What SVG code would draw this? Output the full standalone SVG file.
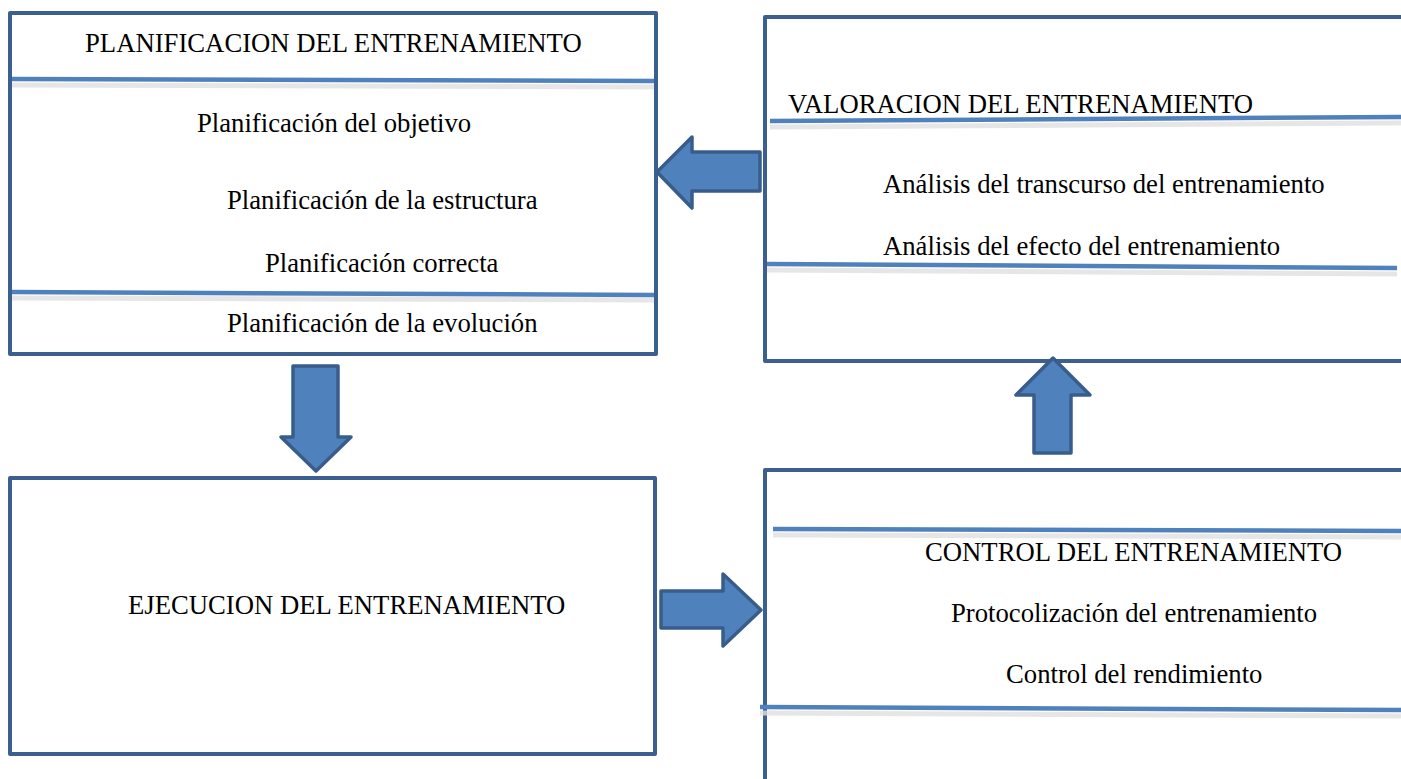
<svg xmlns="http://www.w3.org/2000/svg" width="1401" height="779" viewBox="0 0 1401 779">
<style>
.box{fill:#ffffff;stroke:#3b5f8e;stroke-width:4;stroke-linejoin:round}
.div{stroke:#4f81bd;stroke-width:4.5;fill:none}
.sh{stroke:#e0e0e0;stroke-width:5;fill:none;opacity:0.8}
.arrow{fill:#4f81bd;stroke:#385d8a;stroke-width:3.5;stroke-linejoin:round}
text{font-family:"Liberation Serif","Times New Roman",serif;font-size:26.7px;fill:#000000}
</style>
<rect width="1401" height="779" fill="#ffffff"/>
<g id="planificacion">
<rect class="box" x="10" y="13" width="646" height="341"/>
<path class="sh" d="M12 85 L654 87"/>
<path class="div" d="M12 79 L654 81"/>
<path class="sh" d="M12 298 L654 300"/>
<path class="div" d="M12 292 L654 295"/>
<text x="85" y="52">PLANIFICACION DEL ENTRENAMIENTO</text>
<text x="197" y="132">Planificación del objetivo</text>
<text x="227" y="209">Planificación de la estructura</text>
<text x="265" y="272">Planificación correcta</text>
<text x="227" y="332">Planificación de la evolución</text>
</g>
<g id="valoracion">
<rect class="box" x="765" y="17" width="660" height="344"/>
<path class="sh" d="M770 127 L1401 123"/>
<path class="div" d="M770 121 L1401 117"/>
<path class="sh" d="M767 270 L1397 274"/>
<path class="div" d="M767 264 L1397 268"/>
<text x="788" y="113">VALORACION DEL ENTRENAMIENTO</text>
<text x="883" y="193">Análisis del transcurso del entrenamiento</text>
<text x="883" y="255">Análisis del efecto del entrenamiento</text>
</g>
<g id="ejecucion">
<rect class="box" x="10" y="478" width="645" height="276"/>
<text x="128" y="614">EJECUCION DEL ENTRENAMIENTO</text>
</g>
<g id="control">
<rect class="box" x="765" y="470" width="660" height="340"/>
<path class="sh" d="M773 535 L1401 537"/>
<path class="div" d="M773 529 L1401 531"/>
<path class="sh" d="M760 713 L1401 716"/>
<path class="div" d="M760 707 L1401 710"/>
<text x="925" y="561">CONTROL DEL ENTRENAMIENTO</text>
<text x="951" y="622">Protocolización del entrenamiento</text>
<text x="1006" y="683">Control del rendimiento</text>
</g>
<g id="connectors">
<path class="arrow" d="M760 152 L692 152 L692 137 L657 172 L692 208 L692 191 L760 191 Z"/>
<path class="arrow" d="M293 366 L338 366 L338 437 L351 437 L316 471 L281 437 L293 437 Z"/>
<path class="arrow" d="M661 591 L723 591 L723 574 L761 610 L723 646 L723 628 L661 628 Z"/>
<path class="arrow" d="M1034 453 L1071 453 L1071 395 L1090 395 L1053 358 L1016 395 L1034 395 Z"/>
</g>
</svg>
